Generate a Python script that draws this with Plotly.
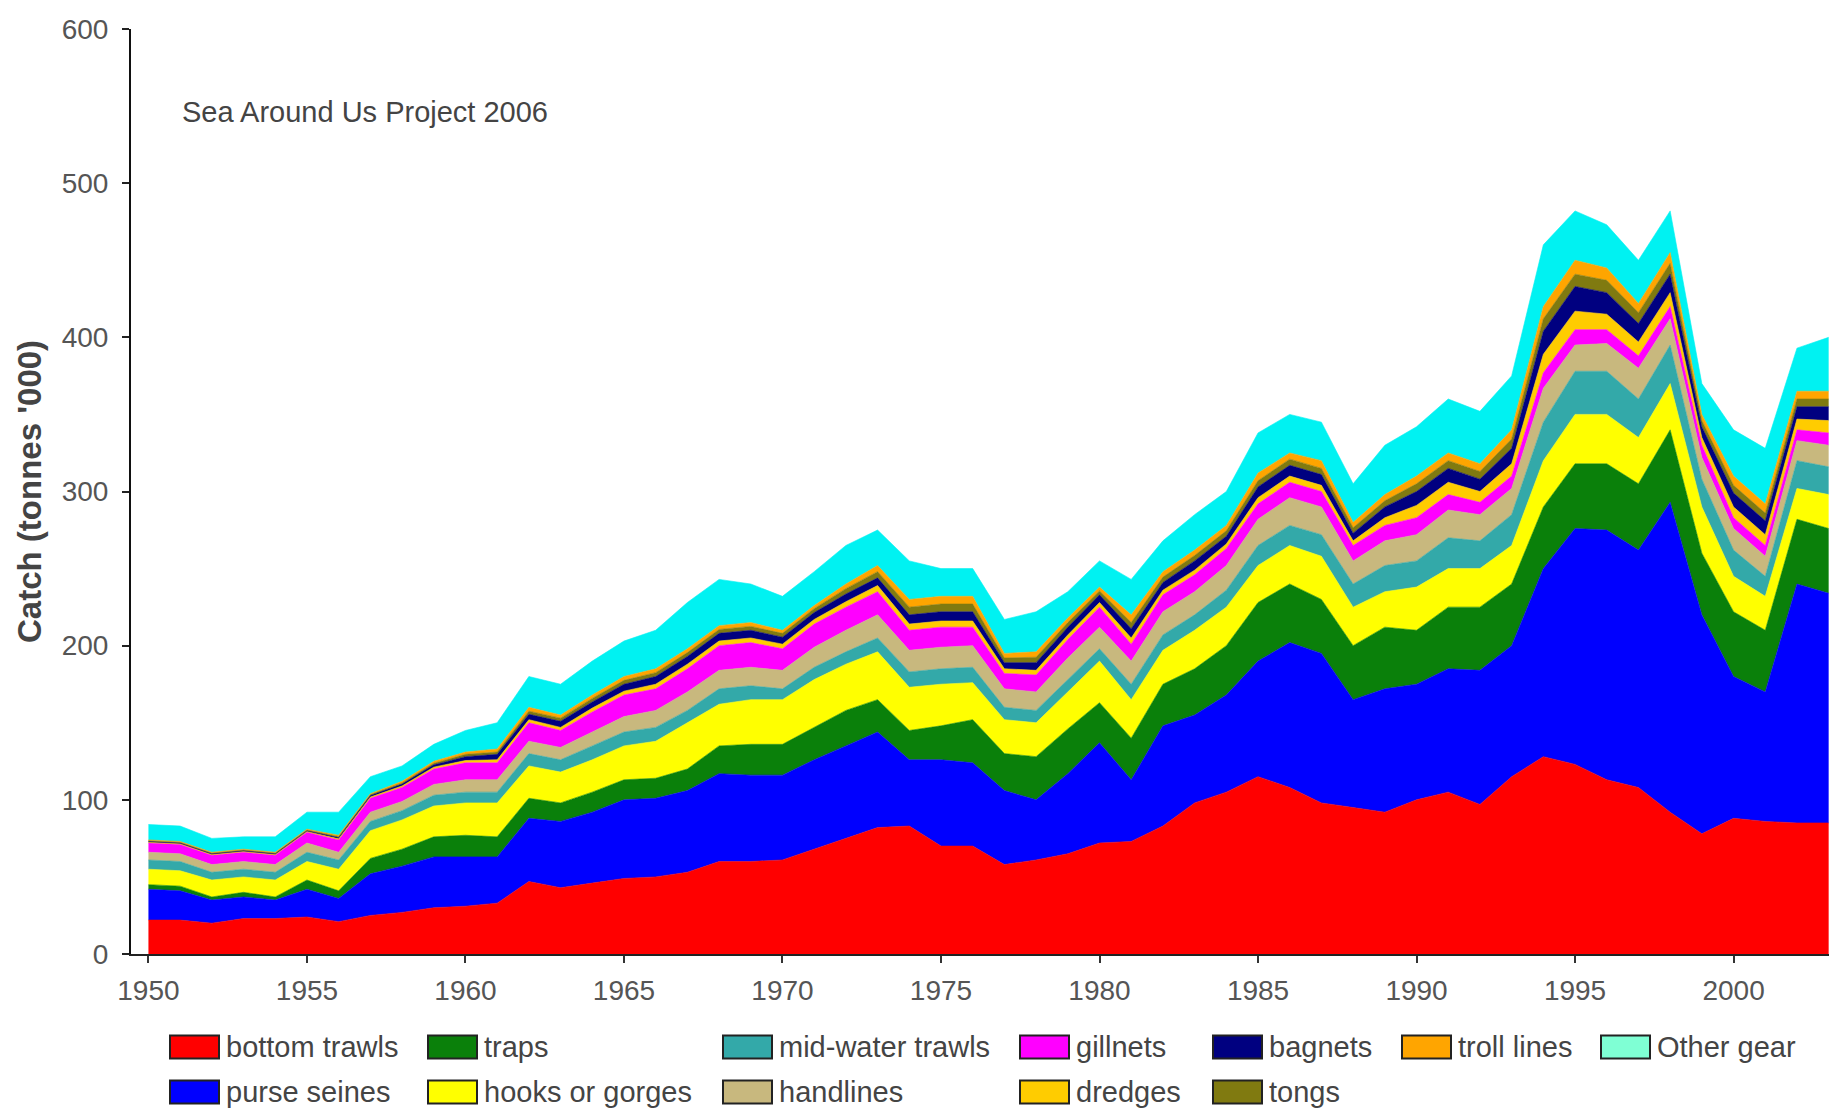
import plotly.graph_objects as go

years = list(range(1950, 2004))

gear_names = ["bottom trawls", "purse seines", "traps", "hooks or gorges",
              "mid-water trawls", "handlines", "gillnets", "dredges",
              "bagnets", "tongs", "troll lines", "Other gear"]

bottom_trawls = [22, 22, 20, 23, 23, 24, 21, 25, 27, 30,
                 31, 33, 47, 43, 46, 49, 50, 53, 60, 60,
                 61, 68, 75, 82, 83, 70, 70, 58, 61, 65,
                 72, 73, 83, 98, 105, 115, 108, 98, 95, 92,
                 100, 105, 97, 115, 128, 123, 113, 108, 92, 78,
                 88, 86, 85, 85]
purse_seines = [20, 19, 15, 14, 12, 18, 15, 27, 30, 33,
                32, 30, 41, 43, 46, 51, 51, 53, 57, 56,
                55, 58, 60, 62, 43, 56, 54, 48, 39, 52,
                65, 40, 65, 57, 63, 75, 94, 97, 70, 80,
                75, 80, 87, 85, 122, 153, 162, 154, 201, 142,
                92, 84, 155, 149]
traps = [3, 3, 2, 3, 2, 6, 5, 10, 11, 13,
         14, 13, 13, 12, 13, 13, 13, 14, 18, 20,
         20, 21, 23, 21, 19, 22, 28, 24, 28, 29,
         26, 27, 27, 30, 32, 38, 38, 35, 35, 40,
         35, 40, 41, 40, 40, 42, 43, 43, 47, 40,
         42, 40, 42, 42]
hooks_or_gorges = [10, 10, 11, 10, 11, 12, 14, 18, 19, 20,
                   21, 22, 21, 20, 21, 22, 24, 30, 27, 29,
                   29, 31, 30, 31, 28, 27, 24, 22, 22, 24,
                   27, 25, 22, 25, 25, 24, 25, 28, 25, 23,
                   28, 25, 25, 25, 30, 32, 32, 30, 30, 30,
                   23, 22, 20, 22]
mid_water_trawls = [6, 6, 5, 5, 5, 6, 6, 6, 6, 7,
                    7, 7, 8, 8, 9, 9, 9, 8, 10, 9,
                    7, 8, 8, 9, 10, 10, 10, 8, 8, 8,
                    8, 10, 10, 10, 11, 13, 13, 14, 15, 17,
                    17, 20, 18, 20, 25, 28, 28, 25, 25, 18,
                    17, 13, 18, 18]
handlines = [5, 5, 5, 5, 5, 6, 5, 6, 6, 7,
             8, 8, 8, 8, 9, 10, 11, 12, 12, 12,
             12, 13, 14, 15, 14, 14, 14, 12, 12, 14,
             14, 15, 15, 15, 16, 17, 18, 18, 15, 16,
             17, 18, 17, 17, 22, 17, 18, 20, 17, 14,
             14, 13, 13, 14]
gillnets = [6, 6, 6, 6, 6, 7, 8, 9, 9, 10,
            11, 11, 12, 11, 13, 14, 14, 15, 16, 16,
            14, 15, 15, 15, 13, 13, 12, 10, 11, 12,
            13, 11, 11, 11, 11, 10, 10, 10, 10, 10,
            11, 10, 8, 8, 10, 10, 9, 8, 8, 8,
            7, 7, 7, 8]
dredges = [0.5, 0.5, 0.5, 0.5, 0.5, 0.5, 0.7, 0.8, 1, 1.2,
           1.5, 2, 2, 2, 2.5, 2.5, 3, 3, 3, 3,
           3, 3, 3.5, 4, 4, 4, 4, 3, 3, 3,
           3, 4, 3, 3, 3, 4, 4, 4, 3, 5,
           8, 8, 7, 8, 12, 12, 10, 9, 9, 5,
           7, 7, 7, 8]
bagnets = [0.5, 0.5, 0.5, 0.5, 0.5, 0.5, 0.8, 1, 1.2, 1.5,
           2.5, 3.5, 3.5, 4, 4, 4.5, 5, 5, 5, 5,
           4.5, 4.5, 5, 5, 6, 6, 6, 4, 5, 5,
           5, 6, 5, 6, 5, 7, 7, 7, 5, 7,
           9, 9, 8, 10, 15, 16, 14, 12, 12, 7,
           9, 9, 8, 9]
tongs = [0.5, 0.5, 0.5, 0.5, 0.5, 0.5, 0.7, 0.6, 0.8, 1,
         1.5, 1.5, 2, 2, 2.3, 2.5, 2.5, 2.5, 2.5, 2.5,
         2.5, 2.5, 3.5, 4, 5, 5, 5, 3, 3.5, 3,
         2.5, 4, 3.5, 3.5, 3.5, 4, 4, 4, 3.5, 4,
         5, 5, 5, 6, 8, 8, 8, 7, 7, 4,
         5, 5, 5, 5]
troll_lines = [0.5, 0.5, 0.5, 0.5, 0.5, 0.5, 0.8, 0.6, 1, 1.3,
               1.5, 2, 2.5, 2, 2.2, 2.5, 2.5, 2.5, 2.5, 2.5,
               2, 2, 3, 4, 5, 5, 5, 3, 3.5, 3,
               2.5, 5, 3.5, 3.5, 3.5, 5, 4, 5, 3.5, 4,
               5, 5, 5, 6, 8, 9, 8, 6, 7, 4,
               6, 6, 5, 5]
other_gear = [10, 10, 9, 8, 10, 11, 15, 11, 10, 11,
              14, 17, 20, 20, 22, 23, 25, 30, 30, 25,
              22, 22, 25, 23, 25, 18, 18, 22, 26, 17,
              17, 23, 20, 23, 22, 26, 25, 25, 25, 32,
              32, 35, 34, 35, 40, 32, 28, 28, 27, 20,
              30, 36, 28, 35]

series = [bottom_trawls, purse_seines, traps, hooks_or_gorges, mid_water_trawls,
          handlines, gillnets, dredges, bagnets, tongs, troll_lines, other_gear]

area_colors = ["#FF0000", "#0000FF", "#0A800A", "#FFFF00", "#33A9A9", "#C8B87E",
               "#FF00FF", "#FFCC00", "#000080", "#807A10", "#FFA500", "#00F2F2"]
legend_colors = ["#FF0000", "#0000FF", "#0A800A", "#FFFF00", "#33A9A9", "#C8B87E",
                 "#FF00FF", "#FFCC00", "#000080", "#807A10", "#FFA500", "#7FFFD4"]

# legend grid slot (column, row) of each gear, as in the original
legend_slots = [(0, 0), (0, 1), (1, 0), (1, 1), (2, 0), (2, 1),
                (3, 0), (3, 1), (4, 0), (4, 1), (5, 0), (6, 0)]

# The page body adds an 8px offset; figure is sized to fill the window after it.
OFF = 8
W, H = 1829, 1100
L, R, T, B = 123, 2, 21, 154
PW, PH = W - L - R, H - T - B

fig = go.Figure()
for name, vals, col in zip(gear_names, series, area_colors):
    fig.add_trace(go.Scatter(
        x=years, y=vals, name=name, mode="lines", stackgroup="one",
        line=dict(width=0.6, color=col), fillcolor=col, showlegend=False,
        hovertemplate="%{x}: %{y}<extra>" + name + "</extra>"))

font_family = "Liberation Sans, Arial, sans-serif"

fig.update_layout(
    width=W, height=H,
    margin=dict(l=L, r=R, t=T, b=B),
    paper_bgcolor="white", plot_bgcolor="white",
    font=dict(family=font_family, color="#555555"),
    showlegend=False,
    xaxis=dict(range=[1949.45, 2003.2], tickmode="array",
               tickvals=list(range(1950, 2001, 5)),
               ticks="outside", ticklen=7, tickwidth=1.5, tickcolor="#333333",
               showline=True, linecolor="#222222", linewidth=2,
               showgrid=False, zeroline=False,
               tickfont=dict(size=28, color="#555555"), ticklabelstandoff=3),
    yaxis=dict(range=[0, 600], tickmode="array", tickvals=list(range(0, 601, 100)),
               ticks="outside", ticklen=7, tickwidth=1.5, tickcolor="#222222",
               showline=True, linecolor="#111111", linewidth=2,
               showgrid=False, zeroline=False,
               tickfont=dict(size=28, color="#555555"), ticklabelstandoff=8),
)

# helpers: screenshot pixel position -> paper coordinates
def px_x(px):
    return (px - OFF - L) / PW

def px_y(py):
    return (H - B - (py - OFF)) / PH

annotations = [
    dict(text="Sea Around Us Project 2006", x=px_x(180), y=px_y(112),
         xref="paper", yref="paper", xanchor="left", yanchor="middle",
         showarrow=False, font=dict(size=29, color="#444444", family=font_family)),
    dict(text="<b>Catch (tonnes '000)</b>", x=px_x(29), y=px_y(492),
         xref="paper", yref="paper", xanchor="center", yanchor="middle",
         textangle=-90, showarrow=False,
         font=dict(size=33, color="#444444", family=font_family)),
]

# Legend drawn as boxes and labels (two rows)
col_left = [170, 428, 723, 1020, 1213, 1402, 1601]
row_y = [1047, 1092]
sw_w, sw_h = 49, 23
shapes = []
for name, col, (c, r) in zip(gear_names, legend_colors, legend_slots):
    x0 = col_left[c]
    yc = row_y[r]
    shapes.append(dict(type="rect", xref="paper", yref="paper",
                       x0=px_x(x0), x1=px_x(x0 + sw_w),
                       y0=px_y(yc + sw_h / 2), y1=px_y(yc - sw_h / 2),
                       fillcolor=col, line=dict(color="#222222", width=2)))
    annotations.append(dict(text=name, x=px_x(x0 + sw_w + 5), y=px_y(yc),
                            xref="paper", yref="paper", xanchor="left",
                            yanchor="middle", showarrow=False,
                            font=dict(size=29, color="#444444", family=font_family)))

fig.update_layout(annotations=annotations, shapes=shapes)
fig.write_html("out.html")
